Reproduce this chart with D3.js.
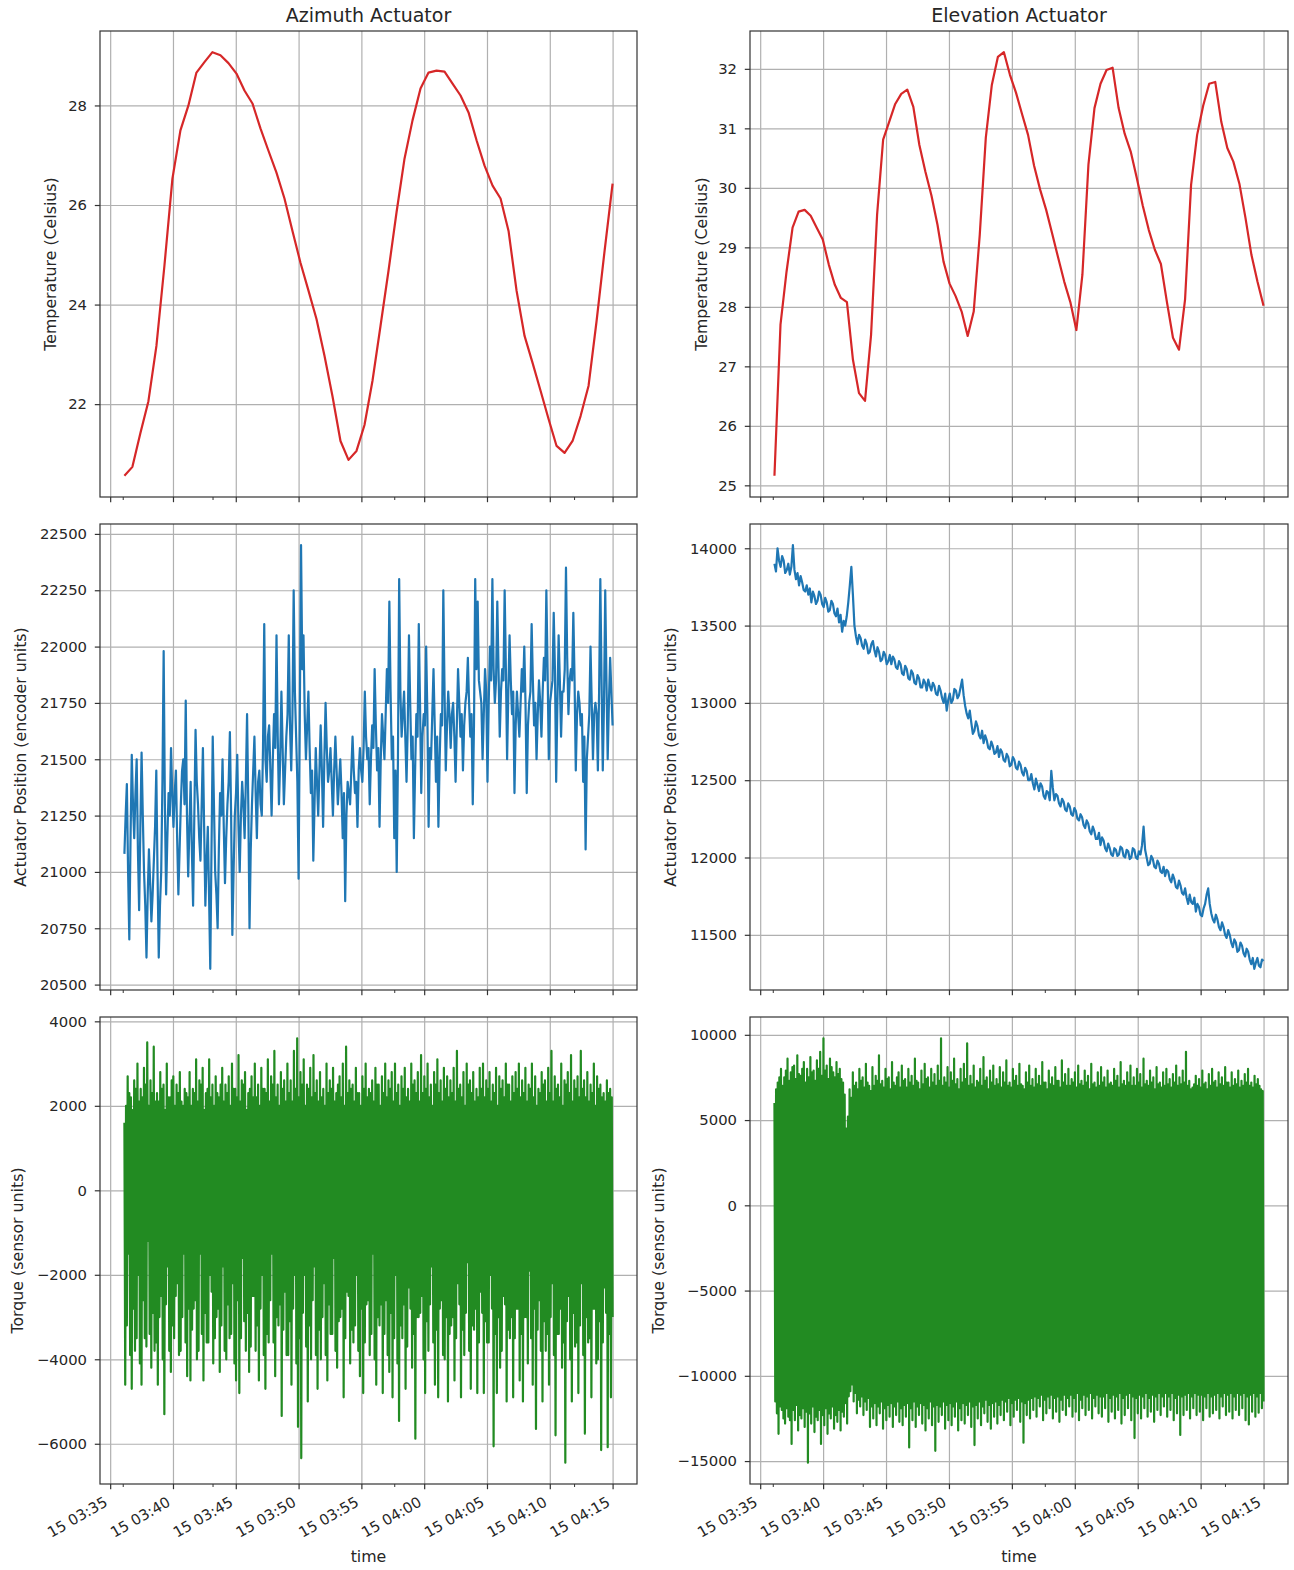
<!DOCTYPE html>
<html><head><meta charset="utf-8">
<script src="https://cdn.jsdelivr.net/npm/d3@7"></script>
<style>body{margin:0;background:#fff}</style>
</head><body><svg id="c" width="1294" height="1570"></svg>
<script>
// ---------------- DATA ----------------
const tStart = "2021-01-15 03:36:08";
const tEnd   = "2021-01-15 04:15:00";
const xMajorTicks = ["2021-01-15 03:35:00","2021-01-15 03:40:00","2021-01-15 03:45:00","2021-01-15 03:50:00","2021-01-15 03:55:00","2021-01-15 04:00:00","2021-01-15 04:05:00","2021-01-15 04:10:00","2021-01-15 04:15:00"];
const xMinorTicks = ["2021-01-15 03:36:00","2021-01-15 03:43:09","2021-01-15 03:57:37","2021-01-15 04:11:56"];
const titles = ["Azimuth Actuator","Elevation Actuator"];
const yLabels = ["Temperature (Celsius)","Actuator Position (encoder units)","Torque (sensor units)"];

const azTemp = [20.56,20.74,21.42,22.06,23.17,24.78,26.53,27.50,28.00,28.66,
28.87,29.07,29.01,28.85,28.64,28.30,28.04,27.54,27.09,26.65,
26.13,25.48,24.84,24.28,23.71,22.97,22.16,21.26,20.88,21.06,
21.58,22.47,23.57,24.68,25.85,26.93,27.70,28.34,28.66,28.70,
28.68,28.44,28.20,27.86,27.30,26.79,26.39,26.13,25.48,24.28,
23.37,22.83,22.27,21.70,21.16,21.02,21.26,21.76,22.37,23.67,
25.08,26.43];
const elTemp = [25.16,27.70,28.59,29.33,29.60,29.63,29.53,29.33,29.13,28.71,
28.37,28.15,28.08,27.11,26.55,26.42,27.53,29.55,30.81,31.11,
31.41,31.58,31.65,31.36,30.72,30.27,29.87,29.38,28.76,28.39,
28.18,27.92,27.51,27.92,29.21,30.84,31.73,32.20,32.28,31.90,
31.60,31.24,30.89,30.37,29.97,29.63,29.23,28.82,28.42,28.08,
27.61,28.54,30.39,31.34,31.75,31.98,32.02,31.34,30.91,30.61,
30.17,29.70,29.29,28.96,28.72,28.08,27.48,27.28,28.12,30.05,
30.89,31.38,31.75,31.78,31.11,30.67,30.44,30.07,29.50,28.87,
28.42,28.02];
const azPos = [21080,21250,21390,21000,20700,21150,21520,21300,21150,21350,21500,21100,20830,21200,21530,21250,21000,20850,20620,20900,
21100,20950,20780,20900,21050,21200,21450,21000,20620,20850,21000,21400,21980,21300,20900,21150,21350,21250,21550,21350,
21200,21350,21450,21150,20900,21100,21300,21450,21500,21300,21760,21250,20980,21200,21400,21100,20850,21250,21630,21400,
21300,21150,21050,21300,21550,21200,20850,21050,21200,20900,20570,21100,21600,21300,21000,20900,20750,21100,21350,21250,
21500,21200,20950,21150,21300,21400,21620,21250,20720,21000,21250,21350,21520,21200,21000,21250,21400,21300,21150,21400,
21700,21300,20750,21100,21300,21450,21600,21350,21150,21400,21450,21300,21250,21550,22100,21500,21400,21600,21650,21450,
21250,21500,21700,21550,22050,21600,21300,21500,21800,21550,21300,21450,21600,21700,22050,21650,21450,21700,22250,21800,
21600,21400,20970,21700,22450,21900,22050,21700,21500,21650,21800,21550,21350,21450,21050,21300,21550,21400,21250,21450,
21650,21450,21200,21500,21750,21550,21400,21450,21550,21400,21250,21450,21600,21450,21300,21400,21500,21350,21150,21350,
20870,21250,21400,21350,21300,21450,21600,21450,21350,21400,21200,21450,21550,21450,21400,21550,21800,21600,21500,21550,
21300,21500,21650,21550,21900,21650,21450,21550,21200,21500,21700,21600,21500,21700,21900,21750,22200,21800,21500,21600,
21150,21450,21000,21500,22300,21800,21600,21700,21800,21600,21400,21650,22050,21750,21500,21600,21150,21450,21700,21600,
22100,21750,21350,21600,21700,21650,22000,21700,21200,21550,21500,21700,21900,21650,21400,21600,21200,21500,21700,21650,
22250,21800,21450,21650,21800,21700,21550,21700,21750,21600,21400,21650,21900,21750,21600,21700,21450,21650,21750,21800,
21950,21750,21600,21700,21300,21650,22300,21900,22200,21850,21800,21750,21500,21700,21900,21800,21400,21750,22000,21850,
22300,21900,21750,21850,22200,21900,21600,21800,21900,21850,22250,21900,21500,21800,22050,21850,21700,21800,21350,21650,
21800,21700,21600,21750,21900,21800,22000,21750,21350,21650,21750,21800,22100,21850,21650,21750,21500,21700,21850,21750,
21600,21800,21950,21850,22250,21900,21500,21750,21800,21850,22150,21900,21400,21750,22050,21850,21600,21800,21800,21900,
22350,21950,21700,21850,21900,21850,22150,21850,21450,21700,21800,21750,21650,21700,21400,21600,21100,21500,21600,21700,
22000,21750,21500,21700,21750,21700,21450,21800,22300,21850,21450,21750,22250,21850,21500,21750,21950,21800,21650];
const elPos = [13900,13850,14000,13920,13880,13950,13920,13840,13860,13900,13830,13880,14020,13860,13800,13840,13760,13820,13780,13730,
13720,13760,13700,13740,13650,13720,13690,13640,13660,13720,13700,13640,13620,13680,13650,13590,13600,13660,13640,13580,
13560,13610,13520,13570,13460,13530,13500,13560,13650,13760,13880,13700,13500,13430,13380,13440,13420,13370,13350,13410,
13380,13320,13330,13380,13400,13340,13300,13360,13330,13270,13280,13330,13310,13250,13270,13310,13250,13300,13280,13230,
13220,13270,13250,13190,13180,13240,13220,13160,13150,13210,13190,13130,13120,13180,13160,13100,13100,13150,13130,13080,
13150,13110,13080,13130,13110,13060,13050,13110,13080,13030,13000,13060,12950,13020,13060,13000,13020,13090,13080,13030,
13050,13100,13150,13050,12980,12930,12900,12950,12870,12800,12820,12880,12850,12790,12770,12820,12740,12790,12760,12710,
12700,12750,12720,12670,12680,12720,12650,12700,12680,12630,12620,12670,12650,12590,12600,12650,12630,12580,12570,12620,
12600,12550,12530,12580,12560,12500,12500,12540,12480,12440,12510,12470,12430,12480,12460,12400,12380,12430,12420,12370,
12560,12450,12370,12410,12400,12350,12330,12380,12360,12310,12300,12350,12330,12280,12270,12320,12300,12250,12240,12280,
12260,12210,12190,12240,12220,12170,12150,12200,12170,12120,12120,12160,12080,12130,12110,12060,12040,12090,12060,12020,
12010,12060,12050,12010,12020,12070,12060,12010,12000,12050,12040,11990,12000,12060,12050,12000,11990,12040,12020,12080,
12200,12050,12000,11950,11960,12010,11990,11940,11930,11980,11960,11910,11900,11940,11880,11920,11910,11860,11840,11890,
11860,11810,11800,11850,11820,11770,11760,11800,11740,11700,11760,11710,11700,11740,11650,11700,11680,11630,11620,11670,
11700,11760,11800,11700,11640,11600,11580,11630,11600,11550,11530,11580,11550,11500,11480,11530,11500,11450,11420,11470,
11450,11390,11400,11450,11430,11380,11360,11410,11390,11340,11310,11350,11280,11320,11350,11300,11290,11340,11330];
const azTorqueHigh = [1600,2000,2700,2300,2200,1900,2600,2400,3000,2100,2400,2200,2900,2500,3500,2000,2600,2300,3400,2100,
2300,2100,2800,2400,2500,1900,3000,2200,2200,2600,2700,2000,2500,2300,2800,2100,2000,2400,2300,2200,
2800,2000,2400,2300,3100,2100,2600,2500,2900,1900,2300,2400,3100,2200,2500,2000,2700,2300,2200,2500,
2900,2100,2500,2300,2700,2000,3000,2400,2400,2200,3200,2100,2600,2500,2800,1900,2300,2400,2700,2200,
3000,2200,2500,2000,2900,2400,2400,2300,3100,2100,2700,2500,3300,2200,2500,2000,2800,2400,2600,2100,
3000,2300,2600,2100,3300,2400,3600,2200,2800,2500,3100,2000,2500,2400,2900,2200,3200,2300,2600,2100,
2800,2200,2400,2000,3000,2300,2600,2400,2900,2100,2300,2500,2700,2200,3000,2000,3400,2300,2600,2400,
2500,2100,2900,2300,2300,2000,2700,2400,3000,2200,2400,2300,2600,2100,2900,2500,2500,2000,2700,2300,
3000,2200,2600,2400,2800,2100,3000,2300,2500,2000,2700,2400,2900,2200,2400,2100,3000,2500,2600,2300,
2800,2100,3200,2300,2700,2400,3000,2200,2500,2000,2800,2500,3100,2300,2600,2100,2900,2400,2700,2200,
2600,2300,2900,2100,3300,2400,2500,2200,2800,2000,3000,2500,2600,2300,2800,2100,2400,2200,2900,2400,
3000,2200,2600,2400,2800,2100,2500,2300,2900,2000,2700,2400,2600,2200,3000,2500,2500,2100,2700,2300,
2800,2400,3000,2200,2600,2300,2900,2100,2500,2400,3000,2200,2700,2000,2400,2300,2800,2500,2600,2100,
2900,2300,3300,2100,2700,2400,2500,2200,3000,2000,2600,2500,2800,2300,3200,2100,2600,2400,2700,2200,
3300,2400,2600,2200,2800,2100,2500,2300,3000,2000,2700,2400,2500,2200,2300,2100,2600,2300,2400,2200];
const azTorqueLow = [-4600,-3200,-1500,-3900,-4700,-2800,-3800,-3500,-2000,-4100,-4600,-2600,-3500,-3700,-1200,-3400,-4200,-2900,-3800,-3600,
-4600,-3000,-2500,-4000,-5300,-2700,-1800,-3800,-4300,-3200,-3500,-2500,-2200,-3900,-3800,-3000,-1500,-3600,-4400,-2800,
-4500,-3300,-2800,-2600,-4000,-3800,-1500,-3400,-4500,-2900,-3600,-3600,-2000,-2400,-4100,-3500,-3000,-2800,-4300,-3200,
-1800,-3800,-4000,-2700,-3500,-3400,-2200,-4100,-4500,-2600,-4800,-3500,-1600,-3100,-3800,-2900,-4300,-3700,-2500,-2500,
-3800,-3200,-4500,-2800,-2000,-3900,-4700,-3400,-3600,-2600,-1500,-3600,-4400,-3000,-3200,-2700,-5340,-3300,-2400,-3900,
-3900,-3100,-4600,-2800,-2000,-4100,-5600,-3500,-6340,-2900,-2000,-3700,-5000,-3200,-4000,-2600,-1800,-3900,-4700,-3300,
-4000,-3000,-2200,-3900,-4500,-2700,-3400,-3400,-1600,-3800,-4200,-3100,-3000,-2800,-4900,-3500,-2400,-2500,-4100,-3300,
-3600,-3200,-2000,-3800,-4400,-2800,-4800,-3600,-2700,-2600,-3900,-3400,-1500,-4000,-4600,-3000,-3200,-2700,-4800,-3400,
-2600,-3900,-4300,-2900,-4900,-3500,-2000,-4100,-5460,-3200,-3500,-2700,-4700,-3700,-2300,-2800,-4200,-3400,-5880,-3000,
-3000,-2900,-2500,-4000,-4800,-3100,-3800,-2700,-1800,-3600,-4600,-3300,-4900,-2800,-2600,-3900,-4000,-3000,-5000,-3400,
-3200,-3000,-4500,-3500,-2200,-2700,-4900,-3300,-3900,-2900,-1700,-3800,-4700,-3200,-3300,-2800,-4800,-3600,-2400,-2900,
-4800,-3100,-3600,-3600,-2000,-2800,-6060,-3400,-4800,-3000,-4200,-3800,-2500,-2700,-5000,-3300,-3500,-3000,-4900,-3500,
-2800,-2800,-4500,-3400,-5000,-3000,-3000,-4100,-1900,-3500,-4600,-2800,-5650,-3300,-2600,-3800,-5000,-3100,-3800,-3400,
-4600,-3000,-2200,-3900,-5800,-3400,-3400,-2800,-4200,-3600,-6450,-3100,-2500,-4000,-5000,-2900,-3700,-3600,-4800,-3200,
-2200,-3900,-5760,-3000,-3600,-3500,-4900,-2800,-2800,-4100,-4000,-3100,-6150,-3600,-2300,-2900,-6080,-3400,-4900,-3000];
const elTorqueHigh = [6000,6800,7200,7500,8000,7000,7500,7900,8600,7300,7800,8100,8200,7400,8800,7700,7600,8000,8400,7200,
8000,7500,8700,7800,7900,7300,8500,8000,9000,7600,9800,7900,8200,7400,8600,8100,7800,7500,8400,7700,
8000,7400,7200,6500,4500,5200,6800,6300,7800,7000,7200,6800,8000,7300,7500,6900,8300,7200,7000,6700,
8100,7000,7600,7300,8800,7100,7300,6900,8000,7400,7500,6800,8400,7200,7000,7500,7800,6900,8200,7300,
7400,6900,8000,7200,7600,7000,8600,7300,7200,6800,7900,7100,8300,7400,7500,6900,8000,7200,7700,7000,
8200,7300,9800,7000,7500,7200,8100,6900,7800,7300,8600,7100,7400,6800,8000,7200,8300,7400,9500,7000,
7600,7100,8200,6900,7300,7200,8000,7000,8700,7300,7500,6800,7900,7200,8200,7000,7400,7100,8100,6900,
7800,7200,8500,7000,7200,6900,8000,7300,7600,7000,8300,7100,7000,6800,7800,7200,8200,7000,7400,6900,
8000,7100,7600,7000,8400,7200,7200,6800,7900,7100,7500,7000,8100,7300,7300,6900,8500,7200,7700,7000,
8000,7000,7400,7200,7800,6900,8200,7100,7300,7000,7900,7200,7600,6800,8300,7100,7200,6900,7800,7000,
8100,7200,7500,6900,7900,7100,7200,7000,8000,7300,7600,6900,8400,7100,7300,7000,7800,7200,8200,7000,
7500,7000,8000,7200,7700,6900,8600,7100,7300,7000,7900,7200,7500,6800,8100,7100,7200,6900,7800,7000,
8000,7100,7400,6900,7700,7200,8200,7000,7500,7100,7900,7200,9000,7000,7300,6800,6900,7100,7600,7000,
7400,6900,7900,7100,7200,6800,7700,7000,8000,7200,7300,6900,7800,7100,7500,7000,8100,7200,7200,6900,
7800,7000,7400,7100,7900,6900,7300,7000,7700,7200,8000,7000,7200,6900,7600,7100,7400,7000,6800,6700];
const elTorqueLow = [-11500,-12200,-13400,-11800,-12000,-12500,-12800,-11900,-12400,-12600,-14000,-12000,-12600,-11700,-13200,-12300,-12500,-11900,-13000,-12100,
-15100,-12200,-12800,-11800,-13300,-12400,-12600,-12000,-14000,-12300,-12900,-11900,-13400,-12200,-12500,-11800,-13100,-12300,-12700,-12000,
-13200,-12100,-12400,-11600,-12800,-11200,-10900,-10500,-11500,-11000,-12200,-11400,-11800,-11200,-12300,-11500,-12000,-11300,-13000,-11800,
-12500,-11600,-12900,-11800,-12200,-11500,-13100,-11900,-12600,-11700,-12400,-11600,-13000,-11800,-12300,-11500,-12700,-11900,-12900,-11700,
-12400,-11600,-14200,-11900,-12600,-11500,-13000,-11800,-12300,-11600,-12800,-11700,-13200,-11900,-12500,-11500,-12900,-11800,-14400,-11700,
-12700,-11800,-12300,-11500,-13100,-11700,-12600,-11600,-12900,-11800,-12400,-11500,-13200,-11900,-12600,-11600,-12800,-11700,-12300,-11500,
-13000,-11800,-14060,-11700,-12500,-11500,-12900,-11800,-12200,-11400,-12700,-11700,-13100,-11600,-12400,-11500,-12800,-11700,-12300,-11400,
-12600,-11500,-12100,-11300,-12900,-11600,-12400,-11400,-12000,-11300,-12700,-11500,-13920,-11600,-12300,-11400,-12500,-11300,-12000,-11200,
-12400,-11300,-11800,-11100,-12600,-11400,-12200,-11200,-11900,-11100,-12500,-11300,-12100,-11200,-12700,-11400,-12000,-11100,-12300,-11300,
-11800,-11100,-12400,-11300,-12100,-11000,-12600,-11400,-11900,-11100,-12300,-11200,-12000,-11000,-12500,-11300,-11800,-11100,-12200,-11200,
-12400,-11200,-11900,-11000,-12700,-11300,-12100,-11100,-12500,-11200,-12000,-11000,-12800,-11300,-12300,-11100,-11900,-11000,-12600,-11200,
-13650,-11300,-12200,-11100,-12500,-11200,-11900,-11000,-12400,-11300,-12100,-11100,-12700,-11200,-12000,-11000,-12300,-11200,-11800,-11000,
-12400,-11200,-12000,-11000,-12600,-11300,-12200,-11100,-13470,-11200,-12300,-11100,-12000,-11000,-12500,-11200,-11900,-11000,-12300,-11100,
-12100,-11100,-12600,-11200,-11900,-11000,-12400,-11200,-12200,-11100,-12000,-11000,-12500,-11200,-11800,-11000,-12300,-11100,-12100,-11000,
-12500,-11200,-12000,-11000,-12300,-11100,-11900,-11000,-12600,-11200,-12850,-11100,-12100,-11000,-12400,-11200,-12160,-11000,-11900,-11500];

const yTicksAzTemp = [22,24,26,28];
const yTicksElTemp = [25,26,27,28,29,30,31,32];
const yTicksAzPos = [20500,20750,21000,21250,21500,21750,22000,22250,22500];
const yTicksElPos = [11500,12000,12500,13000,13500,14000];
const yTicksAzTorque = [-6000,-4000,-2000,0,2000,4000];
const yTicksElTorque = [-15000,-10000,-5000,0,5000,10000];

// ---------------- LAYOUT ----------------
const svg = d3.select("#c");
const FONT = "DejaVu Sans, sans-serif";
const TXT = "#262626";
const TICK_FS = 14.8, LABEL_FS = 15.8, TITLE_FS = 19;
const cols = [{x0:100,x1:637},{x0:750,x1:1288}];
const rows = [{y0:31,y1:497},{y0:524,y1:990},{y0:1017,y1:1484}];
const labelX = [[50,20,17],[701,670,658]];

const parseT = d3.timeParse("%Y-%m-%d %H:%M:%S");
const t0 = parseT(tStart), t1 = parseT(tEnd);
const majorT = xMajorTicks.map(parseT), minorT = xMinorTicks.map(parseT);
function withTimes(vals){
  const n = vals.length;
  return vals.map((v,i)=>({t:new Date(+t0 + i*(t1-t0)/(n-1)), v}));
}
function interleave(hi, lo){ return d3.merge(hi.map((h,i)=>[h, lo[i]])); }

const panels = [
  {col:0,row:0,vals:azTemp,color:"#d62728",ticks:yTicksAzTemp},
  {col:1,row:0,vals:elTemp,color:"#d62728",ticks:yTicksElTemp},
  {col:0,row:1,vals:azPos,color:"#1f77b4",ticks:yTicksAzPos},
  {col:1,row:1,vals:elPos,color:"#1f77b4",ticks:yTicksElPos},
  {col:0,row:2,vals:interleave(azTorqueHigh,azTorqueLow),color:"#228b22",ticks:yTicksAzTorque},
  {col:1,row:2,vals:interleave(elTorqueHigh,elTorqueLow),color:"#228b22",ticks:yTicksElTorque}
];

panels.forEach(p=>{
  const c = cols[p.col], r = rows[p.row];
  const span = t1 - t0;
  const x = d3.scaleTime().domain([new Date(+t0 - 0.05*span), new Date(+t1 + 0.05*span)]).range([c.x0,c.x1]);
  const [mn,mx] = d3.extent(p.vals);
  const pad = (mx-mn)*0.05;
  const y = d3.scaleLinear().domain([mn-pad, mx+pad]).range([r.y1, r.y0]);
  const g = svg.append("g");

  // grid
  g.append("g").attr("transform",`translate(0,${r.y1})`)
    .call(d3.axisBottom(x).tickValues(majorT).tickSize(-(r.y1-r.y0)).tickFormat(""))
    .call(s=>{s.select(".domain").remove(); s.selectAll("line").attr("stroke","#b0b0b0").attr("stroke-width",1.2);});
  g.append("g").attr("transform",`translate(${c.x0},0)`)
    .call(d3.axisLeft(y).tickValues(p.ticks).tickSize(-(c.x1-c.x0)).tickFormat(""))
    .call(s=>{s.select(".domain").remove(); s.selectAll("line").attr("stroke","#b0b0b0").attr("stroke-width",1.2);});

  // data
  const series = withTimes(p.vals);
  g.append("path").datum(series)
    .attr("d", d3.line().x(d=>x(d.t)).y(d=>y(d.v)))
    .attr("fill","none").attr("stroke",p.color).attr("stroke-width",2.2)
    .attr("stroke-linejoin","round");

  // spines
  g.append("rect").attr("x",c.x0).attr("y",r.y0).attr("width",c.x1-c.x0).attr("height",r.y1-r.y0)
    .attr("fill","none").attr("stroke","#333").attr("stroke-width",1.2);

  // y axis
  g.append("g").attr("transform",`translate(${c.x0},0)`)
    .call(d3.axisLeft(y).tickValues(p.ticks).tickSize(5.2).tickPadding(7.8).tickFormat(d3.format("d")))
    .call(s=>{s.select(".domain").remove();
      s.selectAll("line").attr("stroke","#333").attr("stroke-width",1.2);
      s.selectAll("text").attr("font-family",FONT).attr("font-size",TICK_FS).attr("fill",TXT);});

  // x axis major
  const isBottom = p.row===2;
  const xa = g.append("g").attr("transform",`translate(0,${r.y1})`)
    .call(d3.axisBottom(x).tickValues(majorT).tickSize(5.2).tickFormat(isBottom? d3.timeFormat("%d %H:%M") : ""))
    .call(s=>{s.select(".domain").remove();
      s.selectAll("line").attr("stroke","#333").attr("stroke-width",1.2);});
  if(isBottom){
    xa.selectAll("text").attr("y",0).attr("dy",0).attr("text-anchor","end")
      .attr("transform","translate(-2,21) rotate(-30)")
      .attr("font-family",FONT).attr("font-size",TICK_FS).attr("fill",TXT);
  }
  // x axis minor
  g.append("g").attr("transform",`translate(0,${r.y1})`)
    .call(d3.axisBottom(x).tickValues(minorT).tickSize(3).tickFormat(""))
    .call(s=>{s.select(".domain").remove(); s.selectAll("line").attr("stroke","#333").attr("stroke-width",1);});

  // y label
  const lx = labelX[p.col][p.row], ly = (r.y0+r.y1)/2;
  g.append("text").attr("x",lx).attr("y",ly)
    .attr("transform",`rotate(-90,${lx},${ly})`)
    .attr("text-anchor","middle").attr("dominant-baseline","central")
    .attr("font-family",FONT).attr("font-size",LABEL_FS).attr("fill",TXT)
    .text(yLabels[p.row]);

  if(p.row===0){
    g.append("text").attr("x",(c.x0+c.x1)/2).attr("y",r.y0-9)
      .attr("text-anchor","middle").attr("font-family",FONT).attr("font-size",TITLE_FS).attr("fill",TXT)
      .text(titles[p.col]);
  }
  if(isBottom){
    g.append("text").attr("x",(c.x0+c.x1)/2).attr("y",1562)
      .attr("text-anchor","middle").attr("font-family",FONT).attr("font-size",LABEL_FS).attr("fill",TXT)
      .text("time");
  }
});
</script>
</body></html>
